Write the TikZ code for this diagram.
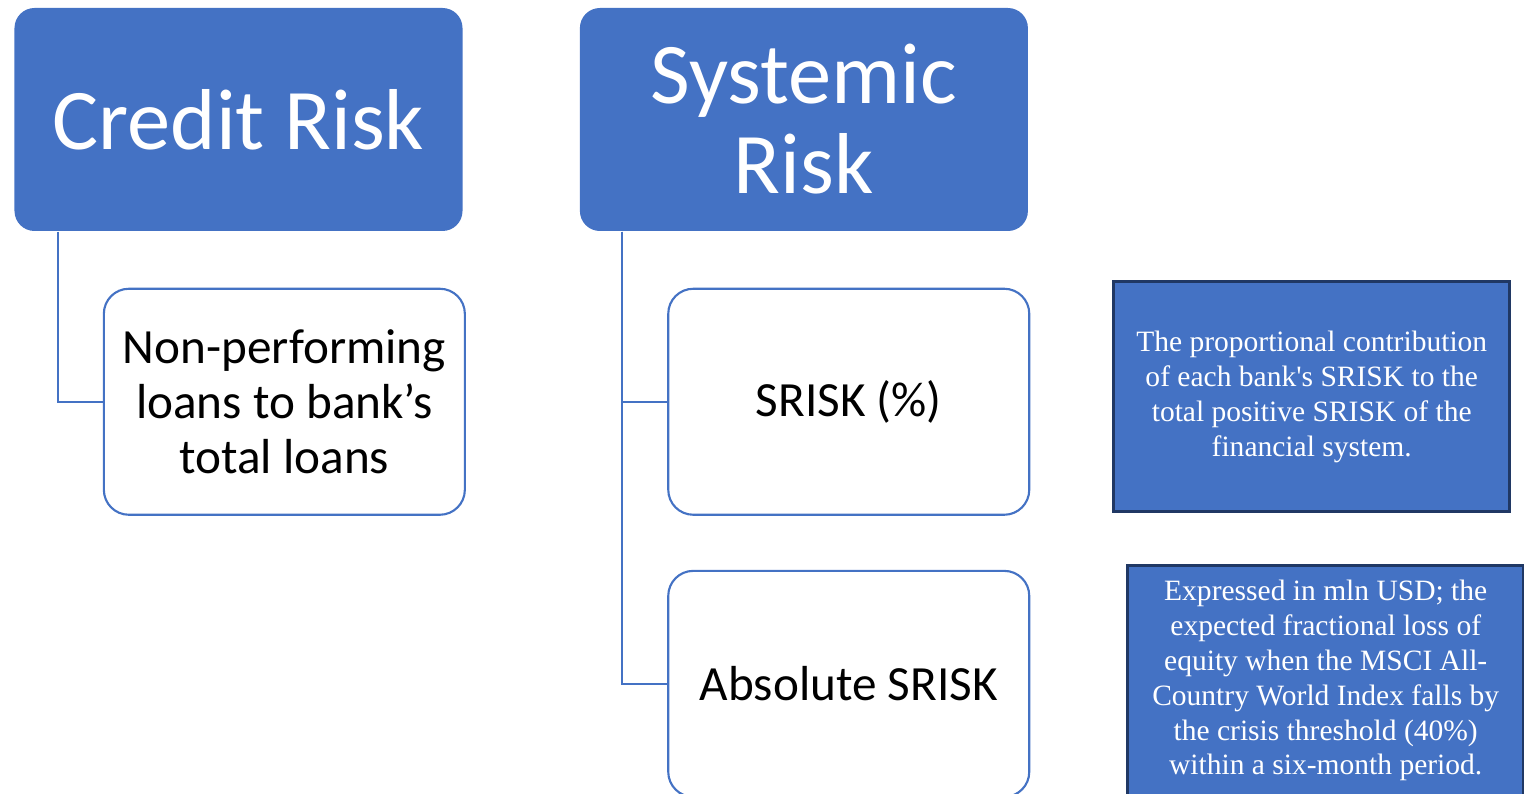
\documentclass[tikz,border=0pt]{standalone}
\usepackage{fontspec}
\setmainfont{Liberation Serif}
\setsansfont{Carlito}
\usepackage{tikz}
\usetikzlibrary{positioning}
\definecolor{accent}{HTML}{4472C4}
\definecolor{navy}{HTML}{203864}

\begin{document}
\begin{tikzpicture}[
    head/.style={rectangle, rounded corners=0.2cm, fill=accent, text=white, minimum width=4.48cm, minimum height=2.23cm, align=center, font=\sffamily\fontsize{24.6}{25.6}\selectfont},
    leaf/.style={draw=accent, line width=0.6pt, rectangle, rounded corners=0.25cm, fill=white, minimum width=3.61cm, minimum height=2.26cm, align=center, font=\sffamily\fontsize{14}{15.6}\selectfont},
    note/.style={draw=navy, line width=0.8pt, rectangle, fill=accent, text=white, minimum width=3.96cm, minimum height=2.3cm, align=center, font=\fontsize{8.4}{9.9}\selectfont},
    link/.style={draw=accent, line width=0.6pt}
]
    \useasboundingbox (0,0) rectangle (15.24,-7.94);

    % Headers
    \node[head] (credit) at (2.385,-1.195) {Credit Risk};
    \node[head, right=1.16cm of credit] (systemic) {Systemic\\Risk};

    % Measures
    \node[leaf, below right=0.56cm and 0.89cm of credit.south west] (npl) {Non-performing\\loans to bank's\\total loans};
    \node[leaf, below right=0.56cm and 0.88cm of systemic.south west] (srisk) {SRISK (\%)};
    \node[leaf, below=0.54cm of srisk] (abs) {Absolute SRISK};

    % Descriptions
    \node[note, right=0.82cm of srisk, yshift=0.05cm] (share) {The proportional contribution\\of each bank\textquotesingle s SRISK to the\\total positive SRISK of the\\financial system.};
    \node[note, right=0.96cm of abs, yshift=0.03cm] (loss) {Expressed in mln USD; the\\expected fractional loss of\\equity when the MSCI All-\\Country World Index falls by\\the crisis threshold (40\%)\\within a six-month period.};

    % Connections
    \draw[link] ([xshift=0.44cm]credit.south west) |- (npl.west);
    \draw[link] ([xshift=0.43cm]systemic.south west) |- (srisk.west);
    \draw[link] ([xshift=0.43cm]systemic.south west) |- (abs.west);

\end{tikzpicture}
\end{document}
